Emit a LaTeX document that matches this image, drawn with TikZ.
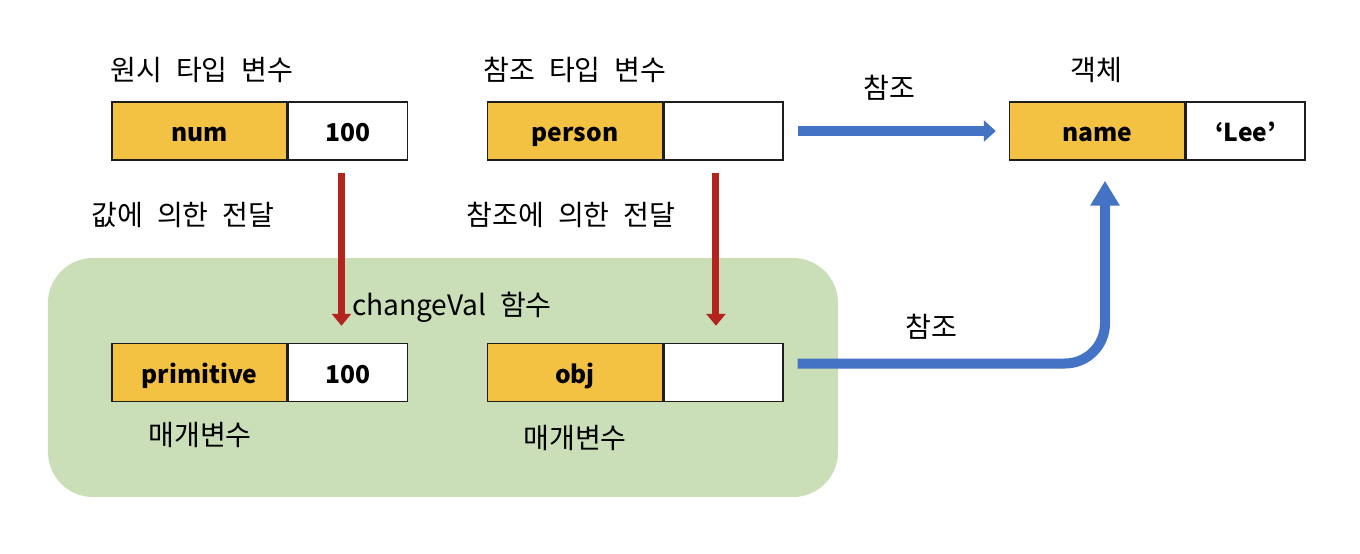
\documentclass[tikz,border=0pt]{standalone}
\usepackage{fontspec}
\setmainfont{Noto Sans CJK KR}[WordSpace=2.2]
\usetikzlibrary{arrows.meta,positioning}
\definecolor{keyyellow}{HTML}{F4C242}
\definecolor{boxline}{HTML}{1E1E1E}
\definecolor{groupgreen}{HTML}{CADFB8}
\definecolor{passred}{HTML}{B3241E}
\definecolor{refblue}{HTML}{4472C4}
\tikzset{
  keybox/.style={rectangle,draw=boxline,line width=0.03cm,fill=keyyellow,minimum width=3.5cm,minimum height=1.16cm,inner sep=0pt,text height=14pt,text depth=1.6pt,font=\bfseries\fontsize{14}{16}\selectfont},
  valbox/.style={keybox,fill=white,minimum width=2.38cm},
  caption/.style={font=\fontsize{16}{19}\selectfont,inner sep=0pt},
  passarrow/.style={-{Triangle[width=0.38cm,length=0.24cm]},line width=0.14cm,passred},
  refarrow/.style={-{Triangle[width=0.42cm,length=0.24cm]},line width=0.2cm,refblue},
  refbent/.style={-{Triangle[width=0.56cm,length=0.5cm]},line width=0.2cm,refblue,rounded corners=0.8cm}
}
\begin{document}
\begin{tikzpicture}[x=0.02cm,y=-0.02cm]
    \useasboundingbox (0,0) rectangle (1360,554);
    % function scope
    \fill[groupgreen,rounded corners=0.9cm] (48,258) rectangle (838,497);
    % variables
    \node[keybox] (num) at (199.5,131) {num};
    \node[valbox,right=0pt of num] (numval) {100};
    \node[keybox] (person) at (575,131) {person};
    \node[valbox,right=0pt of person] (personval) {};
    \node[keybox] (name) at (1097,131) {name};
    \node[valbox,right=0pt of name] (nameval) {‘Lee’};
    \node[keybox] (primitive) at (199.5,372.5) {primitive};
    \node[valbox,right=0pt of primitive] (primval) {100};
    \node[keybox] (obj) at (575,372.5) {obj};
    \node[valbox,right=0pt of obj] (objval) {};
    % captions
    \node[caption] (primtitle) at (202,70) {원시 타입 변수};
    \node[caption] (reftitle) at (575,70) {참조 타입 변수};
    \node[caption] (objtitle) at (1096,70) {객체};
    \node[caption] (toplink) at (889,88) {참조};
    \node[caption] (byvalue) at (183,215) {값에 의한 전달};
    \node[caption] (byref) at (571,215) {참조에 의한 전달};
    \node[caption] (functitle) at (452,307) {changeVal 함수};
    \node[caption] (lowlink) at (931,327) {참조};
    \node[caption] (primparam) at (200,435) {매개변수};
    \node[caption] (objparam) at (575,438) {매개변수};
    % arrows
    \draw[passarrow] ([xshift=-0.13cm,yshift=-0.24cm]numval.south) -- ([xshift=-0.13cm,yshift=0.34cm]primval.north);
    \draw[passarrow] ([xshift=-0.15cm,yshift=-0.24cm]personval.south) -- ([xshift=-0.15cm,yshift=0.34cm]objval.north);
    \draw[refarrow] ([xshift=0.28cm]personval.east) -- ([xshift=-0.26cm]name.west);
    \draw[refbent] ([xshift=0.28cm,yshift=0.18cm]objval.east) -| ([xshift=0.16cm,yshift=-0.4cm]name.south);
  \end{tikzpicture}
\end{document}
